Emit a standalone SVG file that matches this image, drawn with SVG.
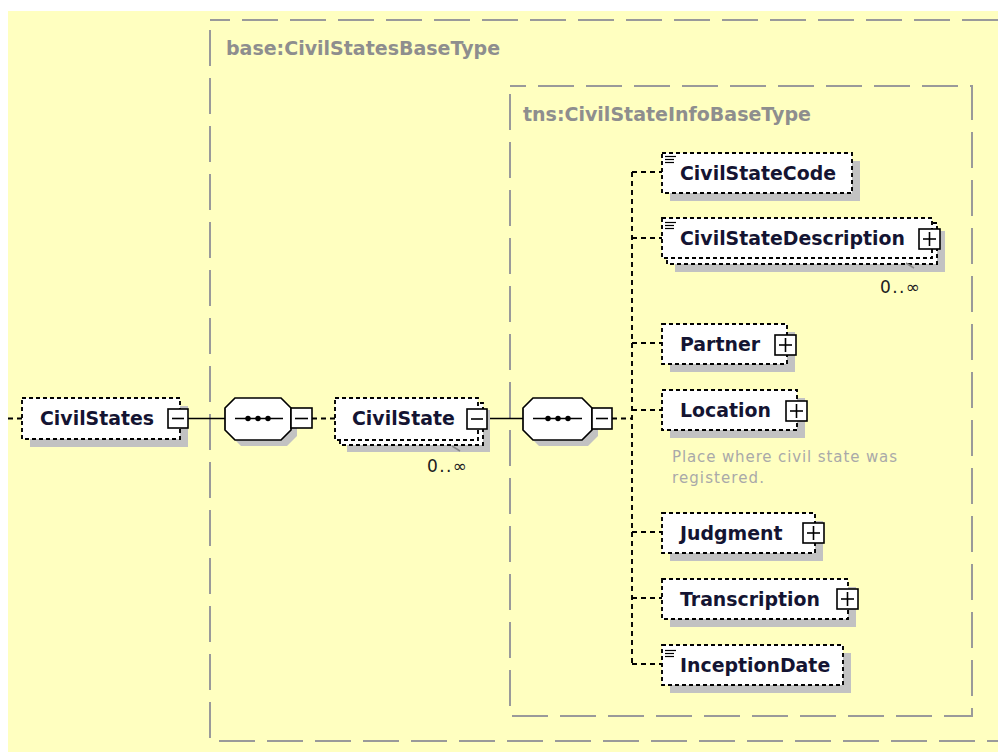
<svg xmlns="http://www.w3.org/2000/svg" width="998" height="752" viewBox="0 0 998 752">
<style>
.bg{fill:#FFFFC0}
.frame{fill:none;stroke:#9a9a9a;stroke-width:2;stroke-dasharray:36 12}
.glbl{font-family:"DejaVu Sans",sans-serif;font-weight:bold;font-size:19px;fill:#8e8e8e}
.shadow{fill:#c2c2c2}
.box{fill:#fff;stroke:#000;stroke-width:1.9;stroke-dasharray:4 3}
.btn{fill:#fff;stroke:#000;stroke-width:1.6}
.sym{stroke:#000;stroke-width:1.6;fill:none}
.oct{fill:#fff;stroke:#000;stroke-width:1.7}
.lbl{font-family:"DejaVu Sans",sans-serif;font-weight:bold;font-size:18.9px;fill:#141432}
.occ{font-family:"DejaVu Sans",sans-serif;font-size:17px;fill:#202020}
.doc{font-family:"DejaVu Sans",sans-serif;font-size:15px;fill:#a9a9a9}
.solid{stroke:#000;stroke-width:1.7;fill:none}
.dash{stroke:#000;stroke-width:1.9;fill:none;stroke-dasharray:5 4}
.icon{stroke:#000;stroke-width:1.2}
.tick{stroke:#888;stroke-width:1.5}
</style>
<rect class="bg" x="8" y="11" width="990" height="741"/>

<g id="frames">
  <rect class="frame" x="210" y="20" width="830" height="721" stroke-dashoffset="16"/>
  <text class="glbl" x="226" y="55">base:CivilStatesBaseType</text>
  <rect class="frame" x="510" y="86" width="462" height="630" stroke-dashoffset="20"/>
  <text class="glbl" x="523" y="121">tns:CivilStateInfoBaseType</text>
</g>

<g id="connectors">
  <line class="dash" x1="8" y1="418.5" x2="22" y2="418.5"/>
  <line class="solid" x1="188" y1="418.5" x2="225" y2="418.5"/>
  <line class="dash" x1="312" y1="418.5" x2="335" y2="418.5"/>
  <line class="solid" x1="487" y1="418.5" x2="523" y2="418.5"/>
  <line class="dash" x1="612" y1="418.5" x2="632" y2="418.5"/>
  <line class="dash" x1="632" y1="172" x2="632" y2="664"/>
  <line class="dash" x1="632" y1="172" x2="662" y2="172"/>
  <line class="dash" x1="632" y1="238" x2="662" y2="238"/>
  <line class="dash" x1="632" y1="343" x2="662" y2="343"/>
  <line class="dash" x1="632" y1="410" x2="662" y2="410"/>
  <line class="dash" x1="632" y1="532" x2="662" y2="532"/>
  <line class="dash" x1="632" y1="598" x2="662" y2="598"/>
  <line class="dash" x1="632" y1="664" x2="662" y2="664"/>
</g>

<g id="CivilStates">
  <rect class="shadow" x="30" y="406" width="158" height="41"/>
  <rect class="box" x="22" y="398" width="158" height="41"/>
  <text class="lbl" x="40" y="425">CivilStates</text>
  <rect class="btn" x="168" y="409" width="20" height="19"/>
  <line class="sym" x1="172" y1="418.5" x2="184" y2="418.5"/>
</g>

<g id="sequence1">
  <polygon class="shadow" points="241,404 287,404 297,414 297,436 287,446 241,446 231,436 231,414"/>
  <polygon class="oct" points="235,398 281,398 291,408 291,430 281,440 235,440 225,430 225,408"/>
  <line class="solid" x1="235" y1="418.5" x2="283" y2="418.5"/>
  <circle cx="248" cy="418.5" r="2.7"/>
  <circle cx="258" cy="418.5" r="2.7"/>
  <circle cx="268" cy="418.5" r="2.7"/>
  <rect class="btn" x="291" y="408" width="21" height="20"/>
  <line class="sym" x1="295" y1="418.5" x2="308" y2="418.5"/>
</g>

<g id="CivilState">
  <rect class="shadow" x="347" y="410" width="143" height="42"/>
  <rect class="box" x="340" y="403" width="143" height="42"/>
  <rect class="box" x="335" y="398" width="143" height="42"/>
  <text class="lbl" x="352" y="425">CivilState</text>
  <rect class="btn" x="467" y="409" width="20" height="20"/>
  <line class="sym" x1="471" y1="419" x2="483" y2="419"/>
  <line class="tick" x1="452" y1="446" x2="460" y2="451"/>
  <text class="occ" x="427" y="472" textLength="40">0..∞</text>
</g>

<g id="sequence2">
  <polygon class="shadow" points="539,404 588,404 598,414 598,436 588,446 539,446 529,436 529,414"/>
  <polygon class="oct" points="533,398 582,398 592,408 592,430 582,440 533,440 523,430 523,408"/>
  <line class="solid" x1="533" y1="418.5" x2="582" y2="418.5"/>
  <circle cx="548" cy="418.5" r="2.7"/>
  <circle cx="558" cy="418.5" r="2.7"/>
  <circle cx="568" cy="418.5" r="2.7"/>
  <rect class="btn" x="592" y="408" width="20" height="21"/>
  <line class="sym" x1="596" y1="418.5" x2="608" y2="418.5"/>
</g>

<g id="CivilStateCode">
  <rect class="shadow" x="670" y="161" width="190" height="40"/>
  <rect class="box" x="662" y="153" width="190" height="40"/>
  <line class="icon" x1="665" y1="156.5" x2="676" y2="156.5"/>
  <line class="icon" x1="665" y1="159.5" x2="674" y2="159.5"/>
  <line class="icon" x1="665" y1="162.5" x2="674" y2="162.5"/>
  <text class="lbl" x="680" y="180">CivilStateCode</text>
</g>

<g id="CivilStateDescription">
  <rect class="shadow" x="675" y="231" width="270" height="41"/>
  <rect class="box" x="667" y="223" width="270" height="41"/>
  <rect class="box" x="662" y="218" width="270" height="40"/>
  <line class="icon" x1="665" y1="222.5" x2="676" y2="222.5"/>
  <line class="icon" x1="665" y1="225.5" x2="674" y2="225.5"/>
  <line class="icon" x1="665" y1="228.5" x2="674" y2="228.5"/>
  <text class="lbl" x="680" y="245">CivilStateDescription</text>
  <rect class="btn" x="919" y="229" width="21" height="20"/>
  <line class="sym" x1="923" y1="239" x2="936" y2="239"/>
  <line class="sym" x1="929.5" y1="232" x2="929.5" y2="246"/>
  <line class="tick" x1="906" y1="263" x2="914" y2="268"/>
  <text class="occ" x="880" y="293" textLength="40">0..∞</text>
</g>

<g id="Partner">
  <rect class="shadow" x="670" y="332" width="125" height="40"/>
  <rect class="box" x="662" y="324" width="125" height="40"/>
  <text class="lbl" x="680" y="351">Partner</text>
  <rect class="btn" x="775" y="335" width="21" height="20"/>
  <line class="sym" x1="779" y1="345" x2="792" y2="345"/>
  <line class="sym" x1="785.5" y1="338" x2="785.5" y2="352"/>
</g>

<g id="Location">
  <rect class="shadow" x="670" y="398" width="135" height="40"/>
  <rect class="box" x="662" y="390" width="135" height="40"/>
  <text class="lbl" x="680" y="417">Location</text>
  <rect class="btn" x="786" y="401" width="21" height="20"/>
  <line class="sym" x1="790" y1="411" x2="803" y2="411"/>
  <line class="sym" x1="796.5" y1="404" x2="796.5" y2="418"/>
  <text class="doc" x="672" y="462" textLength="225">Place where civil state was</text>
  <text class="doc" x="672" y="483" textLength="92">registered.</text>
</g>

<g id="Judgment">
  <rect class="shadow" x="670" y="521" width="153" height="40"/>
  <rect class="box" x="662" y="513" width="153" height="40"/>
  <text class="lbl" x="680" y="540">Judgment</text>
  <rect class="btn" x="803" y="523" width="21" height="20"/>
  <line class="sym" x1="807" y1="533" x2="820" y2="533"/>
  <line class="sym" x1="813.5" y1="526" x2="813.5" y2="540"/>
</g>

<g id="Transcription">
  <rect class="shadow" x="670" y="587" width="186" height="40"/>
  <rect class="box" x="662" y="579" width="186" height="40"/>
  <text class="lbl" x="680" y="606">Transcription</text>
  <rect class="btn" x="837" y="589" width="21" height="20"/>
  <line class="sym" x1="841" y1="599" x2="854" y2="599"/>
  <line class="sym" x1="847.5" y1="592" x2="847.5" y2="606"/>
</g>

<g id="InceptionDate">
  <rect class="shadow" x="670" y="653" width="181" height="40"/>
  <rect class="box" x="662" y="645" width="181" height="40"/>
  <line class="icon" x1="665" y1="650.5" x2="676" y2="650.5"/>
  <line class="icon" x1="665" y1="653.5" x2="674" y2="653.5"/>
  <line class="icon" x1="665" y1="656.5" x2="674" y2="656.5"/>
  <text class="lbl" x="680" y="672">InceptionDate</text>
</g>
</svg>
